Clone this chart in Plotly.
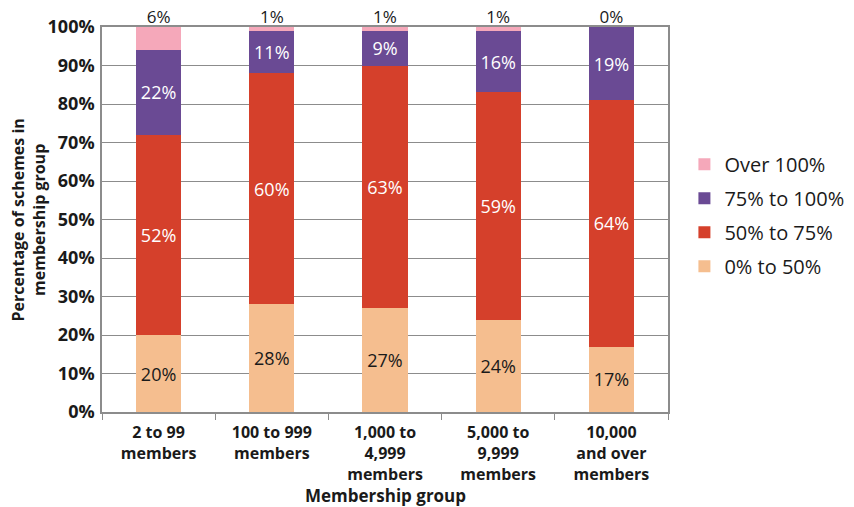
import plotly.graph_objects as go

categories = ["2 to 99<br>members", "100 to 999<br>members", "1,000 to<br>4,999<br>members",
              "5,000 to<br>9,999<br>members", "10,000<br>and over<br>members"]
v_0_50 = [20, 28, 27, 24, 17]
v_50_75 = [52, 60, 63, 59, 64]
v_75_100 = [22, 11, 9, 16, 19]
v_over100 = [6, 1, 1, 1, 0]
tick_vals = [0, 10, 20, 30, 40, 50, 60, 70, 80, 90, 100]
tick_text = [f"{v}%" for v in tick_vals]

FONT = "Open Sans"
fig = go.Figure()

series = [
    ("0% to 50%", v_0_50, "#F5BE8F", "#1a1a1a", True),
    ("50% to 75%", v_50_75, "#D5402B", "white", True),
    ("75% to 100%", v_75_100, "#6A4A94", "white", True),
    ("Over 100%", v_over100, "#F5A8BA", "#1a1a1a", False),
]
for i, (name, vals, col, tcol, show) in enumerate(series):
    fig.add_trace(go.Bar(
        x=categories, y=vals, name=name, marker=dict(color=col, line=dict(width=0)),
        text=[f"{v}%" for v in vals] if show else None,
        textposition="inside" if show else "none",
        insidetextanchor="middle", textangle=0, constraintext="none",
        textfont=dict(family=FONT, size=18, color=tcol),
        legendgroup=name, legendrank=4 - i,
    ))

totals = [a + b + c + d for a, b, c, d in zip(v_0_50, v_50_75, v_75_100, v_over100)]
fig.add_trace(go.Scatter(
    x=categories, y=totals, mode="text", text=[f"{v}%" for v in v_over100],
    textposition="top center", textfont=dict(family=FONT, size=17, color="#1a1a1a"),
    showlegend=False, cliponaxis=False, hoverinfo="skip",
))

fig.update_layout(
    barmode="stack", bargap=0.6,
    width=854, height=507,
    margin=dict(l=102, r=186, t=27, b=95, autoexpand=False),
    plot_bgcolor="white", paper_bgcolor="white",
    font=dict(family=FONT, color="#1a1a1a"),
    legend=dict(x=1.029, y=0.694, xanchor="left", yanchor="top",
                traceorder="grouped", tracegroupgap=5,
                font=dict(family=FONT, size=20, color="#1a1a1a")),
    xaxis=dict(showline=True, linecolor="#8c8c8c", linewidth=1.5, mirror=True,
               ticks="outside", tickson="boundaries", ticklen=6, tickcolor="#8c8c8c",
               automargin=False, ticklabelstandoff=5,
               tickfont=dict(family=FONT, size=16, color="#1a1a1a", weight="bold")),
    yaxis=dict(range=[0, 100], tickvals=tick_vals, ticktext=tick_text,
               showline=True, linecolor="#8c8c8c", linewidth=1.5, mirror=True,
               showgrid=True, gridcolor="#8c8c8c", gridwidth=1, automargin=False,
               ticklabelstandoff=2,
               tickfont=dict(family=FONT, size=18, color="#1a1a1a", weight="bold")),
    annotations=[
        dict(text="Percentage of schemes in<br>membership group", xref="paper", yref="paper",
             x=-0.129, y=0.5, xanchor="center", yanchor="middle", textangle=-90,
             showarrow=False,
             font=dict(family=FONT, size=16, weight="bold", color="#1a1a1a")),
        dict(text="Membership group", xref="paper", yref="paper",
             x=0.5, y=-0.216, showarrow=False, xanchor="center", yanchor="middle",
             font=dict(family=FONT, size=17, weight="bold", color="#1a1a1a")),
    ],
)
fig.write_html("out.html", config={"displayModeBar": False},
               post_script="document.body.style.margin='0';")
